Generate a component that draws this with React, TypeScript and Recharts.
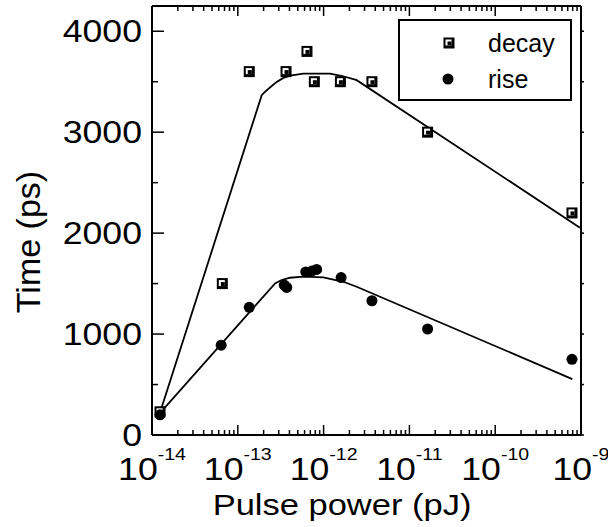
import React from "react";
import { ScatterChart, Scatter, XAxis, YAxis, Legend } from "recharts";

// measured points
const decayPower = [1.24e-14, 6.6e-14, 1.36e-13, 3.65e-13, 6.4e-13, 7.8e-13, 1.57e-12, 3.66e-12, 1.63e-11, 7.85e-10];
const decayTime = [230, 1500, 3600, 3600, 3800, 3500, 3500, 3500, 3000, 2200];

const risePower = [1.24e-14, 6.4e-14, 1.36e-13, 3.48e-13, 3.72e-13, 6.2e-13, 7.3e-13, 8.3e-13, 1.6e-12, 3.66e-12, 1.63e-11, 7.85e-10];
const riseTime = [200, 890, 1265, 1485, 1462, 1615, 1625, 1640, 1560, 1330, 1050, 750];

// fitted curves
const decayFitPower = [1.26e-14, 1.9e-13, 2.07e-13, 2.37e-13, 2.84e-13, 3.4e-13, 4.06e-13, 5.81e-13, 1.19e-12, 1.7e-12, 2.43e-12, 9.73e-10];
const decayFitTime = [240, 3366, 3400, 3442, 3498, 3538, 3561, 3581, 3581, 3554, 3515, 2053];

const riseFitPower = [1.26e-14, 2.72e-13, 3.24e-13, 4.06e-13, 5.81e-13, 9.93e-13, 1.7e-12, 2.43e-12, 7.93e-10];
const riseFitTime = [225, 1502, 1535, 1558, 1568, 1561, 1518, 1469, 554];

const xMajor = [1e-14, 1e-13, 1e-12, 1e-11, 1e-10, 1e-9];
const yTicks = [0, 500, 1000, 1500, 2000, 2500, 3000, 3500, 4000];

const FONT = "'Liberation Sans', Arial, sans-serif";

const zip = (xs: number[], ys: number[]) => xs.map((x, i) => ({ x, y: ys[i] }));
const decay = zip(decayPower, decayTime);
const rise = zip(risePower, riseTime);
const decayFit = zip(decayFitPower, decayFitTime);
const riseFit = zip(riseFitPower, riseFitTime);

const xTicks: number[] = [];
xMajor.forEach((v, i) => {
  xTicks.push(v);
  if (i < xMajor.length - 1) for (let m = 2; m <= 9; m++) xTicks.push(m * v);
});

const isMajorX = (v: number) => {
  const lg = Math.log10(v);
  return Math.abs(lg - Math.round(lg)) < 1e-6;
};

const BottomTick = (props: any) => {
  const { x, y, payload } = props;
  const major = isMajorX(payload.value);
  return (
    <g>
      <line x1={x} x2={x} y1={y} y2={y - (major ? 10 : 5)} stroke="#000" strokeWidth={1.5} />
      {major && (
        <text
          transform={`translate(${x},${y + 45}) scale(1.15,1)`}
          textAnchor="middle"
          fontFamily={FONT}
          fontSize={31}
          fill="#000"
        >
          10
          <tspan dy={-20} fontSize={17}>
            {Math.round(Math.log10(payload.value))}
          </tspan>
        </text>
      )}
    </g>
  );
};

const TopTick = (props: any) => {
  const { x, y, payload } = props;
  const major = isMajorX(payload.value);
  return <line x1={x} x2={x} y1={y} y2={y + (major ? 10 : 5)} stroke="#000" strokeWidth={1.5} />;
};

const LeftTick = (props: any) => {
  const { x, y, payload } = props;
  const major = payload.value % 1000 === 0;
  return (
    <g>
      <line x1={x} x2={x + (major ? 12 : 6)} y1={y} y2={y} stroke="#000" strokeWidth={1.5} />
      {major && (
        <text
          transform={`translate(${x - 10},${y + 11}) scale(1.15,1)`}
          textAnchor="end"
          fontFamily={FONT}
          fontSize={31}
          fill="#000"
        >
          {payload.value}
        </text>
      )}
    </g>
  );
};

const RightTick = (props: any) => {
  const { x, y } = props;
  return <line x1={x} x2={x + 3} y1={y} y2={y} stroke="#000" strokeWidth={1.5} />;
};

const SquareMark = ({ cx, cy }: { cx: number; cy: number }) => (
  <g>
    <rect x={cx - 5.5} y={cy - 5.5} width={11} height={11} fill="#000" />
    <rect x={cx - 3.5} y={cy - 3.5} width={6} height={6} fill="#fff" />
    <rect x={cx - 1.5} y={cy - 1.5} width={4} height={4} fill="#000" />
  </g>
);

const DotMark = ({ cx, cy }: { cx: number; cy: number }) => <circle cx={cx} cy={cy} r={5.5} fill="#000" />;

const XTitle = () => (
  <text
    transform="translate(342,515) scale(1.15,1)"
    textAnchor="middle"
    fontFamily={FONT}
    fontSize={30}
    fill="#000"
  >
    Pulse power (pJ)
  </text>
);

const YTitle = () => (
  <text transform="translate(40,242) rotate(-90)" textAnchor="middle" fontFamily={FONT} fontSize={34} fill="#000">
    Time (ps)
  </text>
);

const LegendBox = (props: any) => {
  const items = (props.payload || []).filter((p: any) => p.type !== "none");
  return (
    <svg width={174} height={82} style={{ display: "block" }}>
      <rect x={1} y={1} width={172} height={80} fill="#fff" stroke="#000" strokeWidth={2} />
      {items.map((it: any, i: number) => (
        <g key={it.value}>
          {i === 0 ? <SquareMark cx={51} cy={24} /> : <DotMark cx={50} cy={60} />}
          <text x={90} y={i === 0 ? 33 : 69} fontFamily={FONT} fontSize={25} fill="#000">
            {it.value}
          </text>
        </g>
      ))}
    </svg>
  );
};

export default function App() {
  return (
    <div style={{ position: "absolute", left: 0, top: 0, background: "#fff" }}>
      <ScatterChart width={608} height={527} margin={{ top: 5, right: 26, bottom: 0, left: 0 }}>
        <XAxis
          xAxisId="b"
          dataKey="x"
          type="number"
          scale="log"
          domain={[1e-14, 1e-9]}
          allowDataOverflow
          ticks={xTicks}
          interval={0}
          tick={<BottomTick />}
          tickLine={false}
          tickSize={0}
          tickMargin={0}
          height={92}
          axisLine={{ stroke: "#000", strokeWidth: 2 }}
          label={<XTitle />}
        />
        <XAxis
          xAxisId="t"
          dataKey="x"
          type="number"
          scale="log"
          orientation="top"
          domain={[1e-14, 1e-9]}
          allowDataOverflow
          ticks={xTicks}
          interval={0}
          tick={<TopTick />}
          tickLine={false}
          tickSize={0}
          tickMargin={0}
          height={1}
          axisLine={{ stroke: "#000", strokeWidth: 2 }}
        />
        <YAxis
          yAxisId="l"
          dataKey="y"
          type="number"
          domain={[0, 4250]}
          allowDataOverflow
          ticks={yTicks}
          interval={0}
          tick={<LeftTick />}
          tickLine={false}
          tickSize={0}
          tickMargin={0}
          width={152}
          axisLine={{ stroke: "#000", strokeWidth: 2 }}
          label={<YTitle />}
        />
        <YAxis
          yAxisId="r"
          dataKey="y"
          type="number"
          orientation="right"
          domain={[0, 4250]}
          allowDataOverflow
          ticks={yTicks}
          interval={0}
          tick={<RightTick />}
          tickLine={false}
          tickSize={0}
          tickMargin={0}
          width={1}
          axisLine={{ stroke: "#000", strokeWidth: 2 }}
        />
        <Legend
          layout="vertical"
          align="center"
          verticalAlign="middle"
          content={<LegendBox />}
          wrapperStyle={{ position: "absolute", left: 398, top: 19, width: 174, height: 82 }}
        />
        <Scatter
          name="decayFit"
          data={decayFit}
          xAxisId="b"
          yAxisId="l"
          line={{ stroke: "#000", strokeWidth: 1.8 }}
          lineType="joint"
          shape={() => <g />}
          legendType="none"
          isAnimationActive={false}
        />
        <Scatter
          name="riseFit"
          data={riseFit}
          xAxisId="b"
          yAxisId="l"
          line={{ stroke: "#000", strokeWidth: 1.8 }}
          lineType="joint"
          shape={() => <g />}
          legendType="none"
          isAnimationActive={false}
        />
        <Scatter
          name="frame"
          data={decay}
          xAxisId="t"
          yAxisId="r"
          shape={() => <g />}
          legendType="none"
          isAnimationActive={false}
        />
        <Scatter
          name="decay"
          data={decay}
          xAxisId="b"
          yAxisId="l"
          shape={(p: any) => <SquareMark cx={p.cx} cy={p.cy} />}
          legendType="square"
          isAnimationActive={false}
        />
        <Scatter
          name="rise"
          data={rise}
          xAxisId="b"
          yAxisId="l"
          shape={(p: any) => <DotMark cx={p.cx} cy={p.cy} />}
          legendType="circle"
          isAnimationActive={false}
        />
      </ScatterChart>
    </div>
  );
}
